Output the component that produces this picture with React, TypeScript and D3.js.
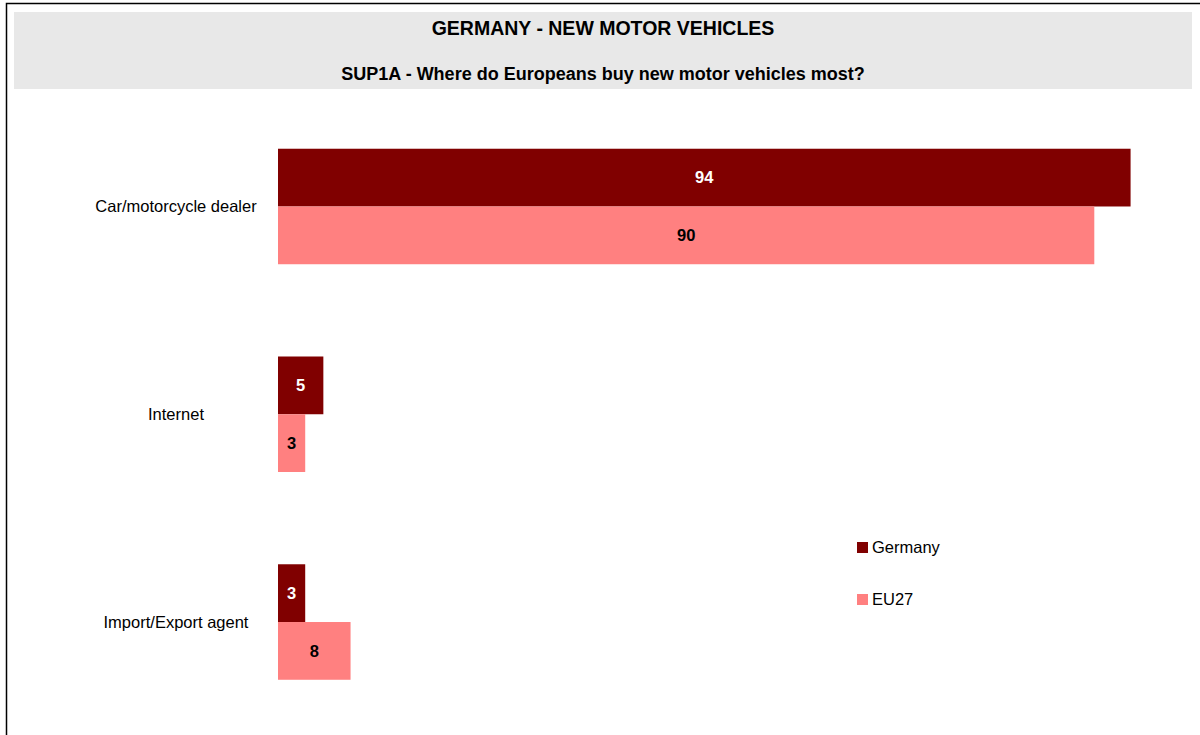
import React from "react";
import * as d3 from "d3";

const categories = ["Car/motorcycle dealer", "Internet", "Import/Export agent"];
const seriesNames = ["Germany", "EU27"];
const germany = [94, 5, 3];
const eu27 = [90, 3, 8];
const colors = ["#800000", "#FF8080"];
const labelColors = ["#ffffff", "#000000"];

const W = 1200;
const H = 735;
const FONT = "Liberation Sans, Arial, sans-serif";

export default function App() {
  const x = d3.scaleLinear().domain([0, 100]).range([278, 278 + 907]);
  const y0 = d3.scaleBand<string>().domain(categories).range([102.6, 725.9]).padding(0);
  const step = y0.step();
  const groupH = 115.5;
  const inner = d3.scaleBand<string>().domain(seriesNames).range([0, groupH]);
  const series = [germany, eu27];

  return (
    <svg width={W} height={H} style={{ display: "block", position: "absolute", left: 0, top: 0 }}>
      <rect x={0} y={0} width={W} height={H} fill="#fff" />
      <rect x={6.5} y={3.5} width={W + 10} height={H + 10} fill="none" stroke="#000" strokeWidth={1.5} />
      <rect x={14} y={12} width={1178} height={77} fill="#e8e8e8" />
      <text x={603} y={35} textAnchor="middle" fontFamily={FONT} fontWeight="bold" fontSize={19.5}>
        GERMANY - NEW MOTOR VEHICLES
      </text>
      <text x={603} y={79.5} textAnchor="middle" fontFamily={FONT} fontWeight="bold" fontSize={18}>
        SUP1A - Where do Europeans buy new motor vehicles most?
      </text>
      {categories.map((c, i) => {
        const center = (y0(c) as number) + step / 2;
        const top = center - groupH / 2;
        return (
          <g key={c}>
            <text x={176} y={center} dy="0.35em" textAnchor="middle" fontFamily={FONT} fontSize={16.5}>
              {c}
            </text>
            {series.map((s, j) => {
              const by = top + (inner(seriesNames[j]) as number);
              const bh = inner.bandwidth();
              const bw = x(s[i]) - x(0);
              return (
                <g key={j}>
                  <rect x={x(0)} y={by} width={bw} height={bh} fill={colors[j]} />
                  <text
                    x={x(0) + bw / 2}
                    y={by + bh / 2}
                    dy="0.35em"
                    textAnchor="middle"
                    fontFamily={FONT}
                    fontWeight="bold"
                    fontSize={16.5}
                    fill={labelColors[j]}
                  >
                    {s[i]}
                  </text>
                </g>
              );
            })}
          </g>
        );
      })}
      {seriesNames.map((n, j) => (
        <g key={n} transform={`translate(857, ${542 + j * 52})`}>
          <rect x={0} y={0} width={11} height={11} fill={colors[j]} />
          <text x={15} y={5.5} dy="0.35em" fontFamily={FONT} fontSize={16.5}>
            {n}
          </text>
        </g>
      ))}
    </svg>
  );
}
